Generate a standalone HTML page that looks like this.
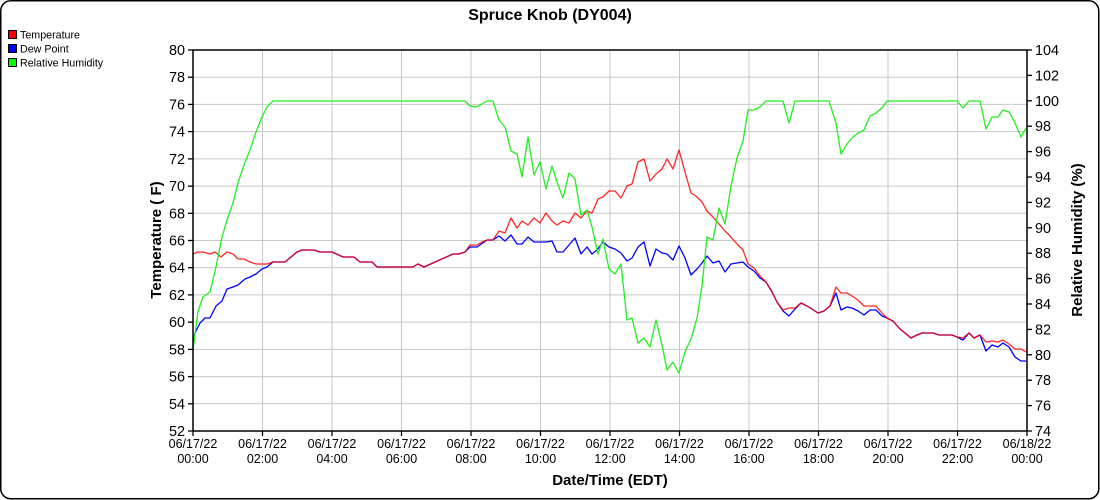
<!DOCTYPE html>
<html><head><meta charset="utf-8"><style>
html,body{margin:0;padding:0;background:#fff;}
svg{display:block;}
text{font-family:"Liberation Sans",Arial,sans-serif;fill:#000;}
</style></head><body>
<svg width="1100" height="500" viewBox="0 0 1100 500" xmlns="http://www.w3.org/2000/svg">
<rect x="0.75" y="0.75" width="1098" height="498" rx="10" ry="10" fill="#fff" stroke="#000" stroke-width="1.5"/>
<text x="550" y="20" font-size="16" font-weight="bold" text-anchor="middle">Spruce Knob (DY004)</text>
<!-- legend -->
<rect x="8.5" y="30.5" width="8" height="8" fill="#ff0000" stroke="#000" stroke-width="1"/>
<text x="20" y="38.5" font-size="10.7">Temperature</text>
<rect x="8.5" y="44.5" width="8" height="8" fill="#0000ff" stroke="#000" stroke-width="1"/>
<text x="20" y="52.5" font-size="10.7">Dew Point</text>
<rect x="8.5" y="58.5" width="8" height="8" fill="#00ff00" stroke="#000" stroke-width="1"/>
<text x="20" y="66.5" font-size="10.7">Relative Humidity</text>
<!-- grid -->
<g stroke="#c8c8c8" stroke-width="1">
<line x1="193" y1="77.2" x2="1027" y2="77.2"/><line x1="193" y1="104.4" x2="1027" y2="104.4"/><line x1="193" y1="131.6" x2="1027" y2="131.6"/><line x1="193" y1="158.9" x2="1027" y2="158.9"/><line x1="193" y1="186.1" x2="1027" y2="186.1"/><line x1="193" y1="213.3" x2="1027" y2="213.3"/><line x1="193" y1="240.5" x2="1027" y2="240.5"/><line x1="193" y1="267.7" x2="1027" y2="267.7"/><line x1="193" y1="294.9" x2="1027" y2="294.9"/><line x1="193" y1="322.1" x2="1027" y2="322.1"/><line x1="193" y1="349.4" x2="1027" y2="349.4"/><line x1="193" y1="376.6" x2="1027" y2="376.6"/><line x1="193" y1="403.8" x2="1027" y2="403.8"/>
<line x1="262.5" y1="50" x2="262.5" y2="431"/><line x1="332" y1="50" x2="332" y2="431"/><line x1="401.5" y1="50" x2="401.5" y2="431"/><line x1="471" y1="50" x2="471" y2="431"/><line x1="540.5" y1="50" x2="540.5" y2="431"/><line x1="610" y1="50" x2="610" y2="431"/><line x1="679.5" y1="50" x2="679.5" y2="431"/><line x1="749" y1="50" x2="749" y2="431"/><line x1="818.5" y1="50" x2="818.5" y2="431"/><line x1="888" y1="50" x2="888" y2="431"/><line x1="957.5" y1="50" x2="957.5" y2="431"/>
</g>
<!-- series -->
<g fill="none" stroke-width="1.3" stroke-linejoin="round">
<polyline stroke="#0000ff" points="193,347 195,333 200,323 205,318 210,318 216,306 222,301 227,289 233,287 238,285 245,279 250,277 256,274 262,269 267,267 273,262 285,262 297,252 302,250 314,250 320,252 332,252 343,257 354,257 360,262 372,262 377,267 413,267 418,264 424,267 453,254 459,254 465,252 470,247 477,247 487,240 493,240 499,236 505,241 511,235 517,244 522,244 528,237 534,242 546,242 552,241 557,252 563,252 575,238 581,254 587,247 592,254 597,250 603,242 609,247 615,249 621,253 627,261 632,258 638,247 644,242 650,266 656,249 662,253 667,254 673,260 679,246 685,258 691,275 697,269 702,263 707,256 713,263 719,261 725,272 731,264 737,263 743,262 748,267 754,271 760,278 766,282 772,292 777,302 783,311 789,316 795,309 801,303 807,306 812,309 818,313 824,311 830,306 836,293 841,310 847,307 852,308 858,311 864,315 870,310 876,310 882,316 887,318 893,321 899,328 905,333 911,338 917,335 922,333 933,333 939,335 952,335 957,337 963,340 969,333 974,338 980,335 986,351 992,345 998,347 1003,343 1009,347 1015,357 1021,361 1026,361"/>
<polyline stroke="#ff0000" stroke-opacity="0.85" points="193,254 198,252 203,252 210,254 215,252 221,257 227,252 233,254 238,259 244,259 250,262 256,264 267,264 273,262 285,262 297,252 302,250 314,250 320,252 332,252 343,257 354,257 360,262 372,262 377,267 413,267 418,264 424,267 453,254 459,254 465,252 470,245 477,245 482,242 487,240 493,240 499,231 505,233 511,218 517,228 522,221 528,225 534,218 540,223 546,213 552,221 557,225 563,221 569,223 575,213 581,218 587,211 592,213 598,199 603,197 609,191 615,191 621,198 627,186 632,184 638,162 644,159 650,181 656,174 662,169 667,159 673,169 679,150 685,172 691,193 696,196 702,202 707,211 713,217 719,224 725,231 731,237 737,244 743,250 748,264 754,268 760,276 766,282 772,292 777,302 783,310 789,308 795,308 801,303 807,306 812,309 818,313 824,311 830,306 836,287 841,293 847,293 852,296 858,300 864,306 870,306 876,306 882,313 887,318 893,321 899,328 905,333 911,338 917,335 922,333 933,333 939,335 952,335 957,337 963,338 969,333 974,338 980,335 986,342 992,341 998,342 1003,340 1009,344 1015,349 1021,349 1026,352"/>
<polyline stroke="#22ee22" points="193,350 198,311 203,297 210,292 216,267 222,237 227,220 233,203 238,183 244,165 250,150 256,132 262,117 267,107 273,101 465,101 470,106 476,107 482,104 487,101 493,101 499,120 505,127 511,151 517,154 522,177 528,137 534,175 540,162 546,189 552,166 557,182 563,198 569,173 575,179 581,215 587,210 592,227 598,254 603,239 609,269 615,274 621,264 627,320 632,318 638,343 644,338 650,347 656,320 662,345 667,370 673,362 679,373 685,352 691,339 697,318 702,286 707,237 713,240 719,208 725,224 731,186 737,158 743,141 748,110 754,110 760,107 766,101 783,101 789,123 795,101 829,101 836,123 841,154 847,144 852,138 858,133 864,130 870,116 876,113 882,108 887,101 957,101 963,108 969,101 980,101 986,129 992,117 998,117 1003,110 1009,112 1015,123 1021,137 1026,128"/>
</g>
<!-- frame -->
<rect x="193" y="50" width="834" height="381" fill="none" stroke="#000" stroke-width="1.5"/>
<!-- left ticks -->
<g stroke="#000" stroke-width="1.3">
<line x1="188" y1="50" x2="193" y2="50"/><line x1="188" y1="77.2" x2="193" y2="77.2"/><line x1="188" y1="104.4" x2="193" y2="104.4"/><line x1="188" y1="131.6" x2="193" y2="131.6"/><line x1="188" y1="158.9" x2="193" y2="158.9"/><line x1="188" y1="186.1" x2="193" y2="186.1"/><line x1="188" y1="213.3" x2="193" y2="213.3"/><line x1="188" y1="240.5" x2="193" y2="240.5"/><line x1="188" y1="267.7" x2="193" y2="267.7"/><line x1="188" y1="294.9" x2="193" y2="294.9"/><line x1="188" y1="322.1" x2="193" y2="322.1"/><line x1="188" y1="349.4" x2="193" y2="349.4"/><line x1="188" y1="376.6" x2="193" y2="376.6"/><line x1="188" y1="403.8" x2="193" y2="403.8"/><line x1="188" y1="431" x2="193" y2="431"/>
<line x1="1027" y1="50" x2="1032" y2="50"/><line x1="1027" y1="75.4" x2="1032" y2="75.4"/><line x1="1027" y1="100.8" x2="1032" y2="100.8"/><line x1="1027" y1="126.2" x2="1032" y2="126.2"/><line x1="1027" y1="151.6" x2="1032" y2="151.6"/><line x1="1027" y1="177" x2="1032" y2="177"/><line x1="1027" y1="202.4" x2="1032" y2="202.4"/><line x1="1027" y1="227.8" x2="1032" y2="227.8"/><line x1="1027" y1="253.2" x2="1032" y2="253.2"/><line x1="1027" y1="278.6" x2="1032" y2="278.6"/><line x1="1027" y1="304" x2="1032" y2="304"/><line x1="1027" y1="329.4" x2="1032" y2="329.4"/><line x1="1027" y1="354.8" x2="1032" y2="354.8"/><line x1="1027" y1="380.2" x2="1032" y2="380.2"/><line x1="1027" y1="405.6" x2="1032" y2="405.6"/><line x1="1027" y1="431" x2="1032" y2="431"/>
<line x1="193" y1="431" x2="193" y2="436"/><line x1="262.5" y1="431" x2="262.5" y2="436"/><line x1="332" y1="431" x2="332" y2="436"/><line x1="401.5" y1="431" x2="401.5" y2="436"/><line x1="471" y1="431" x2="471" y2="436"/><line x1="540.5" y1="431" x2="540.5" y2="436"/><line x1="610" y1="431" x2="610" y2="436"/><line x1="679.5" y1="431" x2="679.5" y2="436"/><line x1="749" y1="431" x2="749" y2="436"/><line x1="818.5" y1="431" x2="818.5" y2="436"/><line x1="888" y1="431" x2="888" y2="436"/><line x1="957.5" y1="431" x2="957.5" y2="436"/><line x1="1027" y1="431" x2="1027" y2="436"/>
</g>
<!-- left labels -->
<g font-size="14.4" text-anchor="end">
<text x="185" y="55">80</text><text x="185" y="82.2">78</text><text x="185" y="109.4">76</text><text x="185" y="136.6">74</text><text x="185" y="163.9">72</text><text x="185" y="191.1">70</text><text x="185" y="218.3">68</text><text x="185" y="245.5">66</text><text x="185" y="272.7">64</text><text x="185" y="299.9">62</text><text x="185" y="327.1">60</text><text x="185" y="354.4">58</text><text x="185" y="381.6">56</text><text x="185" y="408.8">54</text><text x="185" y="436">52</text>
</g>
<g font-size="14.4" text-anchor="start">
<text x="1035" y="55">104</text><text x="1035" y="80.4">102</text><text x="1035" y="105.8">100</text><text x="1035" y="131.2">98</text><text x="1035" y="156.6">96</text><text x="1035" y="182">94</text><text x="1035" y="207.4">92</text><text x="1035" y="232.8">90</text><text x="1035" y="258.2">88</text><text x="1035" y="283.6">86</text><text x="1035" y="309">84</text><text x="1035" y="334.4">82</text><text x="1035" y="359.8">80</text><text x="1035" y="385.2">78</text><text x="1035" y="410.6">76</text><text x="1035" y="436">74</text>
</g>
<g font-size="12.5" text-anchor="middle">
<text x="193" y="448">06/17/22</text><text x="193" y="463">00:00</text>
<text x="262.5" y="448">06/17/22</text><text x="262.5" y="463">02:00</text>
<text x="332" y="448">06/17/22</text><text x="332" y="463">04:00</text>
<text x="401.5" y="448">06/17/22</text><text x="401.5" y="463">06:00</text>
<text x="471" y="448">06/17/22</text><text x="471" y="463">08:00</text>
<text x="540.5" y="448">06/17/22</text><text x="540.5" y="463">10:00</text>
<text x="610" y="448">06/17/22</text><text x="610" y="463">12:00</text>
<text x="679.5" y="448">06/17/22</text><text x="679.5" y="463">14:00</text>
<text x="749" y="448">06/17/22</text><text x="749" y="463">16:00</text>
<text x="818.5" y="448">06/17/22</text><text x="818.5" y="463">18:00</text>
<text x="888" y="448">06/17/22</text><text x="888" y="463">20:00</text>
<text x="957.5" y="448">06/17/22</text><text x="957.5" y="463">22:00</text>
<text x="1027" y="448">06/18/22</text><text x="1027" y="463">00:00</text>
</g>
<text x="610" y="485" font-size="15" font-weight="bold" text-anchor="middle">Date/Time (EDT)</text>
<text transform="translate(161,240) rotate(-90)" font-size="15" font-weight="bold" text-anchor="middle">Temperature ( F)</text>
<text transform="translate(1082,240) rotate(-90)" font-size="15" font-weight="bold" text-anchor="middle">Relative Humidity (%)</text>
</svg>
</body></html>
